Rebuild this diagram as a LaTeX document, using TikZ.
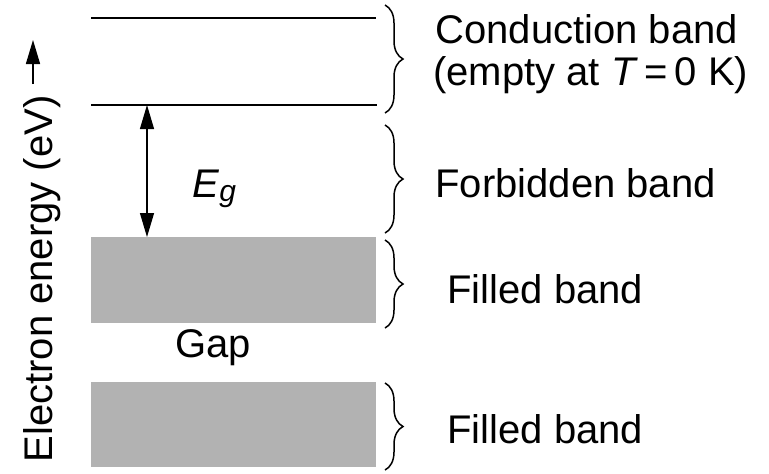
\documentclass[tikz,border=0pt]{standalone}
\usepackage{fontspec}
\setmainfont{Liberation Sans}
\usetikzlibrary{arrows.meta,decorations.pathreplacing}
\definecolor{bandgray}{gray}{0.70}
\begin{document}
\begin{tikzpicture}[x=0.5pt,y=-0.5pt,
  level/.style={line width=0.75pt},
  filledband/.style={fill=bandgray},
  bracket/.style={decorate, decoration={brace, amplitude=9pt}, line width=0.75pt},
  label/.style={anchor=base west, inner sep=0pt, font=\fontsize{20}{24}\selectfont},
  dimarrow/.style={line width=0.6pt, {Triangle[length=12pt,width=7pt]}-{Triangle[length=12pt,width=7pt]}},
  axisarrow/.style={line width=0.75pt, -{Triangle[length=12pt,width=7pt]}},
]
\useasboundingbox (0,0) rectangle (769,473);

% conduction band edges
\coordinate (cbTopL) at (91,18);   \coordinate (cbTopR) at (376,18);
\coordinate (cbBotL) at (91,105);  \coordinate (cbBotR) at (377,105);
\draw[level] (cbTopL) -- (cbTopR);
\draw[level] (cbBotL) -- (cbBotR);

% filled bands
\fill[filledband] (91,237) rectangle (376,323);
\fill[filledband] (91,382) rectangle (376,467);

% band gap E_g
\coordinate (egTop) at (147,105);
\coordinate (egBot) at (147,237);
\draw[dimarrow] (egTop) -- (egBot);
\node[label] (eg) at (192,197) {\textit{E}\raisebox{-2pt}{\fontsize{15}{15}\selectfont\textit{g}}};

\node[label] (gap) at (175,357) {Gap};

% braces
\draw[bracket] (385,5) -- (385,113);
\draw[bracket] (385,125) -- (385,233);
\draw[bracket] (385,240) -- (385,328);
\draw[bracket] (385,383) -- (385,470);

% band names
\node[label] (cbname) at (435,43) {Conduction band};
\node[label] (cbnote) at (433,85) {(empty at \textit{T}\,=\,0 K)};
\node[label] (fbname) at (435,197) {Forbidden band};
\node[label] (vb1name) at (447,303) {Filled band};
\node[label] (vb2name) at (447,443) {Filled band};

% energy axis
\node[rotate=90, anchor=base, inner sep=0pt, font=\fontsize{20}{24}\selectfont] (axis) at (52,279) {Electron energy (eV)};
\coordinate (axisFrom) at (33,84);
\coordinate (axisTo) at (33,40);
\draw[axisarrow] (axisFrom) -- (axisTo);
\end{tikzpicture}
\end{document}
